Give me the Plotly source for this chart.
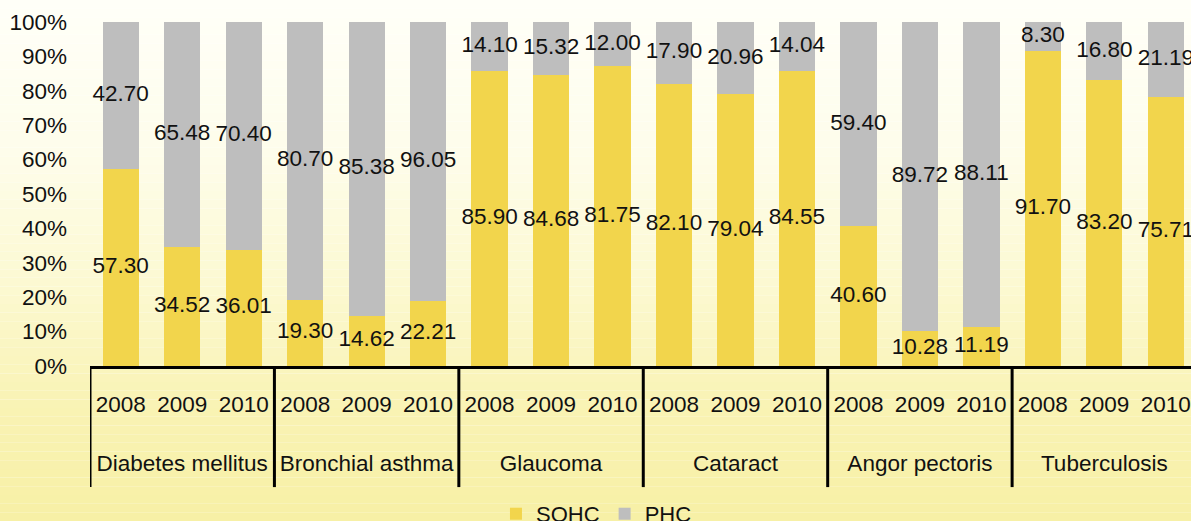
import plotly.graph_objects as go

YELLOW = "#F2D54C"
GREY = "#BEBEBE"
FONT = "Liberation Sans, Arial, sans-serif"

diseases = ["Diabetes mellitus", "Bronchial asthma", "Glaucoma", "Cataract", "Angor pectoris", "Tuberculosis"]
years = ["2008", "2009", "2010"]

sohc = [57.30, 34.52, 36.01,
        19.30, 14.62, 22.21,
        85.90, 84.68, 81.75,
        82.10, 79.04, 84.55,
        40.60, 10.28, 11.19,
        91.70, 83.20, 75.71]
phc = [42.70, 65.48, 70.40,
       80.70, 85.38, 96.05,
       14.10, 15.32, 12.00,
       17.90, 20.96, 14.04,
       59.40, 89.72, 88.11,
       8.30, 16.80, 21.19]

ny = len(years)
x = list(range(len(diseases) * ny))
# year under each bar, disease name two lines lower under the middle bar of its group
ticktext = []
for d in diseases:
    for j, y in enumerate(years):
        ticktext.append(y + ("<br><br>" + d if j == ny // 2 else ""))

fig = go.Figure()
fig.add_trace(go.Bar(x=x, y=sohc, name="SOHC", marker_color=YELLOW, marker_line_width=0))
fig.add_trace(go.Bar(x=x, y=phc, name="PHC", marker_color=GREY, marker_line_width=0))

# value labels at the middle of each (normalised) segment
tot = [a + b for a, b in zip(sohc, phc)]
sohc_mid = [a / t * 50 for a, t in zip(sohc, tot)]
phc_mid = [(a + b / 2) / t * 100 for a, b, t in zip(sohc, phc, tot)]
for mids, vals in [(sohc_mid, sohc), (phc_mid, phc)]:
    fig.add_trace(go.Scatter(x=x, y=mids, mode="text", text=[f"{v:.2f}" for v in vals],
                             textfont=dict(size=22.5, color="#111111", family=FONT),
                             showlegend=False, hoverinfo="skip", cliponaxis=False))

# soft white-to-yellow background, built from horizontal bands
stops = [(0.0, (255, 255, 248)), (0.29, (254, 253, 235)), (0.54, (252, 249, 210)),
         (0.77, (249, 243, 181)), (1.0, (247, 240, 165))]
n = 60
top, bottom = 1 + 22 / 344, -155 / 344
shapes = []
for i in range(n):
    t = (i + 0.5) / n
    for (a, ca), (b, cb) in zip(stops[:-1], stops[1:]):
        if a <= t <= b:
            f = (t - a) / (b - a)
            c = tuple(round(ca[k] + (cb[k] - ca[k]) * f) for k in range(3))
            break
    y0 = top + (bottom - top) * i / n
    y1 = top + (bottom - top) * (i + 1) / n
    shapes.append(dict(type="rect", xref="paper", yref="paper", x0=-0.2, x1=1.2,
                       y0=y0, y1=y1, fillcolor="rgb(%d,%d,%d)" % c,
                       line_width=0, layer="below"))

# group dividers below the axis
for k in range(len(diseases) + 1):
    xb = k * ny - 0.5
    shapes.append(dict(type="line", xref="x", yref="paper", x0=xb, x1=xb, y0=0, y1=-0.352,
                       line=dict(color="black", width=3)))

fig.update_layout(
    barmode="stack", barnorm="percent", bargap=0.41,
    width=1191, height=521,
    margin=dict(l=90, r=0, t=22, b=155, autoexpand=False),
    paper_bgcolor="white", plot_bgcolor="rgba(0,0,0,0)",
    font=dict(family=FONT, size=22, color="#111111"),
    shapes=shapes,
    legend=dict(orientation="h", x=0.46, xanchor="center", y=-0.43, yanchor="middle",
                traceorder="normal", font=dict(size=22), bgcolor="rgba(0,0,0,0)", itemwidth=30),
    xaxis=dict(range=[-0.5, 17.41], tickvals=x, ticktext=ticktext, tickangle=0,
               showline=True, linecolor="black", linewidth=3, zeroline=False,
               ticks="", ticklabelstandoff=16, tickfont=dict(size=22.5), showgrid=False),
    yaxis=dict(range=[0, 100], dtick=10, ticksuffix="%", showgrid=False,
               zeroline=False, showline=False, ticks="", ticklabelstandoff=22,
               tickfont=dict(size=22.5)),
)

fig.write_html("out.html", config={"displayModeBar": False},
               post_script="document.body.style.margin='0';")
